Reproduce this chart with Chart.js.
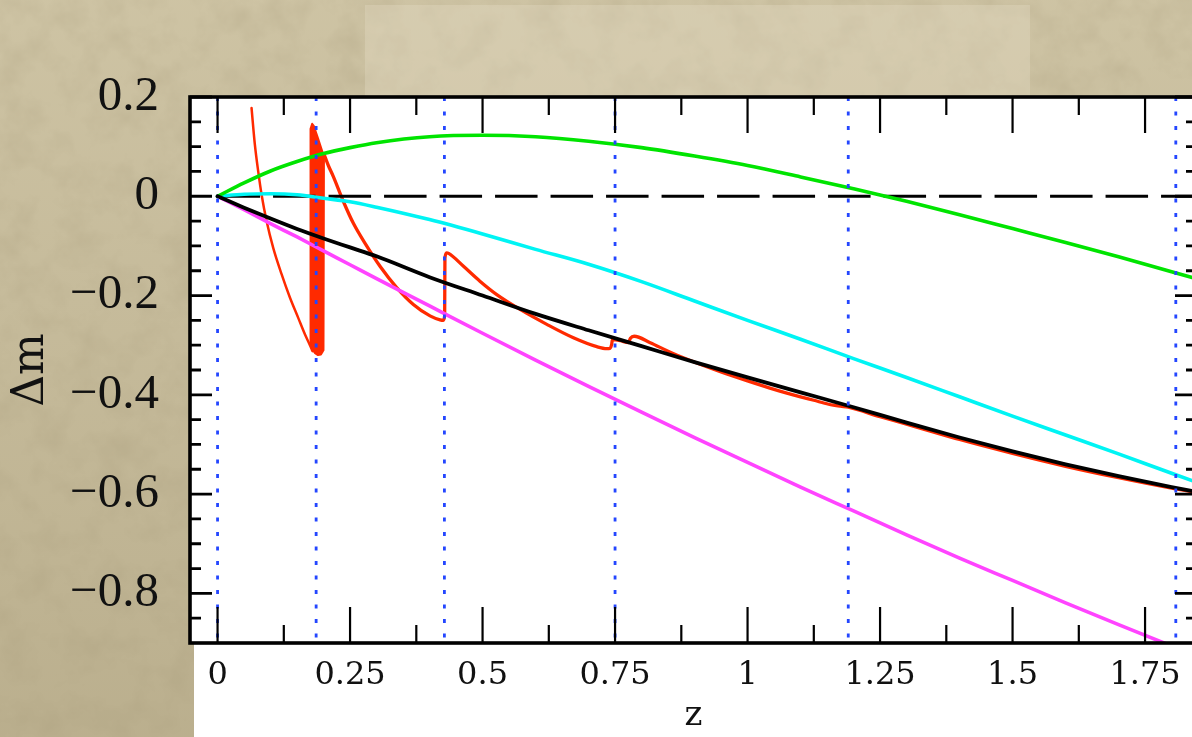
<!DOCTYPE html>
<html>
<head>
<meta charset="utf-8">
<title>Delta m versus z</title>
<script src="https://cdn.jsdelivr.net/npm/chart.js@4.4.1/dist/chart.umd.min.js"></script>
<style>
  html, body { margin: 0; padding: 0; overflow: hidden; }
  body {
    width: 1192px; height: 737px; position: relative;
    background-color: #c8bd9c;
    background-image:
      url("data:image/svg+xml;utf8,<svg xmlns='http://www.w3.org/2000/svg' width='1192' height='737'><filter id='n'><feTurbulence type='fractalNoise' baseFrequency='0.03' numOctaves='4' seed='7'/><feColorMatrix type='matrix' values='0 0 0 0 0.38  0 0 0 0 0.32  0 0 0 0 0.19  0.5 0 0 0 -0.2'/></filter><rect width='1192' height='737' filter='url(%23n)'/></svg>"),
      linear-gradient(to bottom, rgba(255, 250, 232, 0.10), rgba(90, 75, 40, 0.12));
  }
  #patch {
    position: absolute; left: 365px; top: 5px; width: 665px; height: 92px;
    background: rgba(238, 232, 212, 0.25);
  }
  #wrap { position: absolute; left: 0; top: 0; width: 1200px; height: 737px; }
</style>
</head>
<body>
<div id="patch"></div>
<div id="wrap"><canvas id="myChart" width="1200" height="737"></canvas></div>
<script>
/* assen */
var xMin = -0.052, xMax = 1.848;
var yMin = -0.9, yMax = 0.2;

var xTicks = [0, 0.25, 0.5, 0.75, 1, 1.25, 1.5, 1.75];
var xTickLabels = ['0', '0.25', '0.5', '0.75', '1', '1.25', '1.5', '1.75'];
var xMinor = [0.125, 0.375, 0.625, 0.875, 1.125, 1.375, 1.625];

var yTicks = [-0.8, -0.6, -0.4, -0.2, 0, 0.2];
var yTickLabels = ['\u22120.8', '\u22120.6', '\u22120.4', '\u22120.2', '0', '0.2'];
var yMinor = [-0.85, -0.75, -0.7, -0.65, -0.55, -0.5, -0.45, -0.35, -0.3, -0.25,
              -0.15, -0.1, -0.05, 0.05, 0.1, 0.15];

/* gladde modelcurves */
var zGrid = [0, 0.05, 0.1, 0.15, 0.2, 0.25, 0.3, 0.4, 0.5, 0.6, 0.7, 0.8, 0.9, 1.0,
             1.1, 1.2, 1.3, 1.4, 1.5, 1.6, 1.7, 1.8, 1.86];
var dmGreen = [0, 0.027, 0.051, 0.070, 0.086, 0.098, 0.108, 0.120, 0.123, 0.120, 0.111,
               0.098, 0.081, 0.062, 0.039, 0.015, -0.010, -0.037, -0.065, -0.093, -0.122,
               -0.152, -0.170];
var dmCyan = [0, 0.004, 0.005, 0.003, -0.004, -0.011, -0.022, -0.047, -0.076, -0.107,
              -0.137, -0.172, -0.211, -0.250, -0.288, -0.327, -0.365, -0.404, -0.443,
              -0.481, -0.519, -0.558, -0.581];
var dmMagenta = [0, -0.027, -0.055, -0.082, -0.110, -0.138, -0.166, -0.221, -0.276, -0.330,
                 -0.383, -0.435, -0.486, -0.536, -0.586, -0.634, -0.682, -0.729, -0.774,
                 -0.819, -0.863, -0.906, -0.931];
var dmBlack = [0, -0.023, -0.045, -0.066, -0.085, -0.103, -0.121, -0.163, -0.200, -0.237,
               -0.270, -0.302, -0.334, -0.365, -0.395, -0.425, -0.456, -0.486, -0.514,
               -0.540, -0.564, -0.586, -0.598];

/* rode curve: eerste tak, de dikke band, en de rest */
var zRedA = [0.0641, 0.0704, 0.0767, 0.0831, 0.0925, 0.1050, 0.1208, 0.1365, 0.1522,
             0.1648, 0.1743, 0.1790];
var dmRedA = [0.178, 0.104, 0.050, 0.003, -0.050, -0.104, -0.157, -0.204, -0.245,
              -0.278, -0.300, -0.312];

var zBand = [0.1749, 0.1749, 0.1760, 0.1785, 0.1815, 0.1900, 0.2007, 0.2007, 0.1990,
             0.1950, 0.1895, 0.1840, 0.1785, 0.1749];
var dmBand = [-0.296, 0.105, 0.136, 0.146, 0.142, 0.115, 0.080, -0.292, -0.310,
              -0.319, -0.320, -0.316, -0.308, -0.296];

var zRedB = [0.2007, 0.2090, 0.2183, 0.2372, 0.2560, 0.2813, 0.3065, 0.3380, 0.3694,
             0.4009, 0.4198, 0.4260, 0.4285, 0.4290, 0.4320, 0.4360, 0.4640, 0.4950,
             0.5268, 0.5708, 0.6212, 0.6714, 0.7156, 0.7345, 0.7408, 0.7435, 0.7450,
             0.7600, 0.7750, 0.7790, 0.7860, 0.8163, 0.8500, 0.8800, 0.9500, 1.0000,
             1.0500, 1.1000, 1.1250, 1.1530, 1.1750, 1.1900, 1.2500, 1.3000, 1.4000,
             1.5000, 1.6000, 1.7000, 1.8000, 1.8600];
var dmRedB = [0.085, 0.062, 0.040, -0.010, -0.054, -0.100, -0.141, -0.184, -0.218,
              -0.241, -0.249, -0.250, -0.240, -0.125, -0.114, -0.115, -0.141, -0.171,
              -0.198, -0.228, -0.258, -0.285, -0.303, -0.307, -0.306, -0.299, -0.289,
              -0.291, -0.295, -0.286, -0.282, -0.295, -0.312, -0.326, -0.354, -0.372,
              -0.389, -0.404, -0.411, -0.419, -0.423, -0.425, -0.444, -0.459, -0.490,
              -0.518, -0.544, -0.567, -0.588, -0.599];

/* blauwe stippellijnen */
var zDotted = [0, 0.186, 0.428, 0.750, 1.190, 1.808];

function pts(xs, ys) {
    return xs.map(function (x, i) { return { x: x, y: ys[i] }; });
}

function curve(data, color, width, order) {
    return {
        data: data, showLine: true, pointRadius: 0, borderColor: color,
        borderWidth: width, fill: false, order: order,
        cubicInterpolationMode: 'monotone',
        borderJoinStyle: 'round', borderCapStyle: 'round'
    };
}

var datasets = [];

zDotted.forEach(function (z) {
    datasets.push({
        data: [{ x: z, y: yMax }, { x: z, y: yMin }],
        showLine: true, pointRadius: 0, borderColor: '#2446ff', borderWidth: 2.8,
        borderDash: [4, 10.5], borderCapStyle: 'butt', order: 0
    });
});

datasets.push(curve(pts(zGrid, dmBlack), '#000000', 3.8, 1));
datasets.push(curve(pts(zGrid, dmGreen), '#00e400', 3.6, 2));
datasets.push(curve(pts(zGrid, dmCyan), '#00f4f4', 3.6, 3));
datasets.push(curve(pts(zGrid, dmMagenta), '#ff44ff', 3.6, 4));

datasets.push({
    data: [{ x: 0, y: 0 }, { x: xMax, y: 0 }],
    showLine: true, pointRadius: 0, borderColor: '#000000', borderWidth: 3.2,
    borderDash: [42.5, 13], borderCapStyle: 'butt', order: 5
});

datasets.push(curve(pts(zRedB, dmRedB), '#ff2a00', 3.3, 6));
datasets.push(curve(pts(zRedA, dmRedA), '#ff2a00', 2.5, 6));

var band = curve(pts(zBand, dmBand), '#ff2a00', 2, 7);
band.cubicInterpolationMode = 'default';
band.tension = 0;
band.fill = 'shape';
band.backgroundColor = '#ff2a00';
datasets.push(band);

/* witte vlakken, binnenstreepjes en kader */
var frame = {
    id: 'frame',
    beforeDraw: function (chart) {
        var ctx = chart.ctx, a = chart.chartArea;
        ctx.save();
        ctx.fillStyle = '#ffffff';
        ctx.fillRect(a.left, a.top, a.right - a.left, a.bottom - a.top);
        ctx.fillRect(a.left + 4, a.bottom, chart.width - a.left - 4, chart.height - a.bottom);
        ctx.restore();
    },
    afterDatasetsDraw: function (chart) {
        var ctx = chart.ctx, a = chart.chartArea;
        var sx = chart.scales.x, sy = chart.scales.y;
        ctx.save();
        ctx.strokeStyle = '#000000';
        ctx.lineCap = 'butt';

        function xMarks(vals, len) {
            vals.forEach(function (v) {
                var px = sx.getPixelForValue(v);
                ctx.moveTo(px, a.bottom); ctx.lineTo(px, a.bottom - len);
                ctx.moveTo(px, a.top); ctx.lineTo(px, a.top + len);
            });
        }
        function yMarks(vals, len) {
            vals.forEach(function (v) {
                var py = sy.getPixelForValue(v);
                ctx.moveTo(a.left, py); ctx.lineTo(a.left + len, py);
                ctx.moveTo(a.right, py); ctx.lineTo(a.right - len, py);
            });
        }

        ctx.lineWidth = 2.2;
        ctx.beginPath(); xMarks(xTicks, 36); xMarks(xMinor, 18); ctx.stroke();
        ctx.lineWidth = 2.8;
        ctx.beginPath(); yMarks(yTicks, 22); yMarks(yMinor, 11); ctx.stroke();

        ctx.lineWidth = 3.6;
        ctx.strokeRect(a.left, a.top, a.right - a.left, a.bottom - a.top);
        ctx.restore();
    }
};

var ctx = document.getElementById('myChart');

var myChart = new Chart(ctx, {
    type: 'scatter',
    data: { datasets: datasets },
    plugins: [frame],
    options: {
        responsive: false,
        animation: false,
        devicePixelRatio: 1,
        layout: { padding: { top: 97, right: 3, left: 0, bottom: 0 } },
        plugins: { legend: { display: false }, tooltip: { enabled: false } },
        scales: {
            x: {
                type: 'linear', min: xMin, max: xMax,
                grid: { display: false }, border: { display: false },
                afterBuildTicks: function (s) { s.ticks = xTicks.map(function (v) { return { value: v }; }); },
                afterFit: function (s) { s.height = 94; },
                ticks: {
                    padding: 5, color: '#111111', maxRotation: 0, autoSkip: false,
                    font: { family: 'DejaVu Serif', size: 32 },
                    callback: function (v, i) { return xTickLabels[i]; }
                },
                title: {
                    display: true, text: 'z', color: '#111111',
                    font: { family: 'DejaVu Serif', size: 34 },
                    padding: { top: 0, bottom: 0 }
                }
            },
            y: {
                type: 'linear', min: yMin, max: yMax,
                grid: { display: false }, border: { display: false },
                afterBuildTicks: function (s) { s.ticks = yTicks.map(function (v) { return { value: v }; }); },
                afterFit: function (s) { s.width = 190; },
                ticks: {
                    padding: 23, color: '#111111', autoSkip: false,
                    font: { family: 'Liberation Serif', size: 49 },
                    callback: function (v, i) { return yTickLabels[i]; }
                },
                title: {
                    display: true, text: '\u0394m', color: '#111111',
                    font: { family: 'DejaVu Serif', size: 44 },
                    padding: { top: 5, bottom: 0 }
                }
            }
        }
    }
});
</script>
</body>
</html>
